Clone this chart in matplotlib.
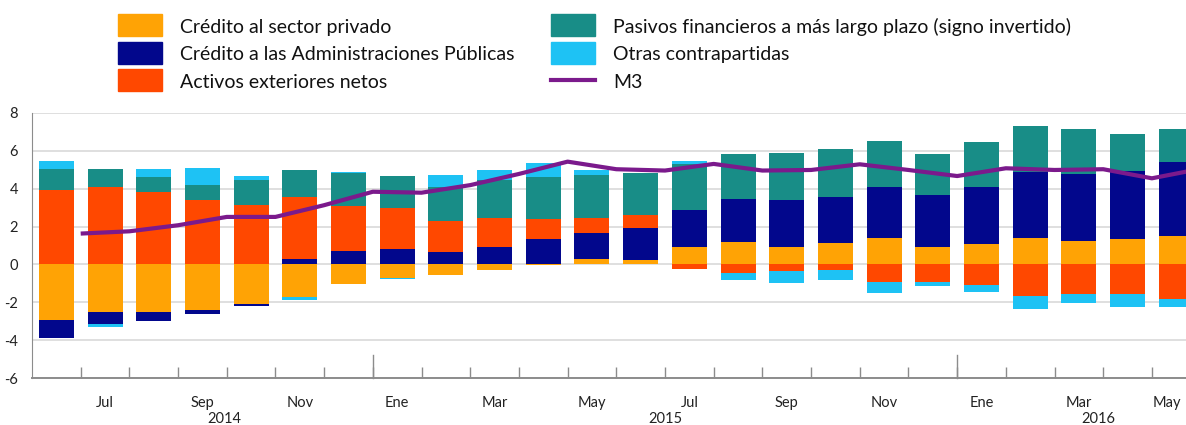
import numpy as np
import matplotlib
matplotlib.use("Agg")
import matplotlib.pyplot as plt
from matplotlib.patches import Rectangle
from matplotlib.lines import Line2D
import matplotlib.transforms as mtransforms

plt.rcParams['font.family'] = ['Lato', 'DejaVu Sans']
plt.rcParams['axes.unicode_minus'] = False

# Jun 2014 - May 2016, contribuciones al crecimiento de M3 (pp)
months = ["Jun", "Jul", "Ago", "Sep", "Oct", "Nov", "Dic",
          "Ene", "Feb", "Mar", "Abr", "May", "Jun", "Jul", "Ago", "Sep", "Oct", "Nov", "Dic",
          "Ene", "Feb", "Mar", "Abr", "May"]
private = [-2.92, -2.53, -2.50, -2.41, -2.09, -1.73, -1.06,
           -0.70, -0.56, -0.30, -0.03, 0.30, 0.23, 0.94, 1.20, 0.94, 1.11, 1.41, 0.94,
           1.06, 1.41, 1.24, 1.33, 1.52]
public = [-0.99, -0.62, -0.47, -0.21, -0.12, 0.27, 0.69,
          0.80, 0.64, 0.94, 1.34, 1.36, 1.71, 1.93, 2.24, 2.46, 2.43, 2.70, 2.73,
          3.01, 3.49, 3.54, 3.62, 3.91]
external = [3.93, 4.07, 3.84, 3.43, 3.13, 3.27, 2.39,
            2.16, 1.67, 1.49, 1.06, 0.79, 0.67, -0.24, -0.47, -0.33, -0.30, -0.91, -0.91,
            -1.09, -1.67, -1.58, -1.58, -1.84]
longterm = [1.11, 0.97, 0.80, 0.76, 1.33, 1.45, 1.73,
            1.71, 1.80, 2.03, 2.23, 2.25, 2.24, 2.43, 2.39, 2.50, 2.54, 2.42, 2.16,
            2.41, 2.43, 2.36, 1.92, 1.72]
other = [0.43, -0.14, 0.39, 0.93, 0.23, -0.15, 0.09,
         -0.06, 0.61, 0.53, 0.74, 0.30, 0.00, 0.18, -0.35, -0.67, -0.52, -0.58, -0.23,
         -0.35, -0.69, -0.48, -0.65, -0.39]
m3 = [1.63, 1.75, 2.07, 2.51, 2.51, 3.13, 3.84,
      3.79, 4.19, 4.78, 5.43, 5.03, 4.96, 5.31, 4.96, 4.99, 5.29, 4.99, 4.67,
      5.08, 4.99, 5.03, 4.55, 5.05]

month_labels = ["Jul", "Sep", "Nov", "Ene", "Mar", "May",
                "Jul", "Sep", "Nov", "Ene", "Mar", "May"]
years = ["2014", "2015", "2016"]

series = [
    ("Crédito al sector privado", private, "#FFA305"),
    ("Crédito a las Administraciones Públicas", public, "#02078C"),
    ("Activos exteriores netos", external, "#FF4800"),
    ("Pasivos financieros a más largo plazo (signo invertido)", longterm, "#188D87"),
    ("Otras contrapartidas", other, "#1EC2F4"),
]
m3_color = "#7B1A8C"

W, H = 1186, 425
fig = plt.figure(figsize=(W / 100, H / 100), dpi=100)
ax = fig.add_axes([32 / W, 1 - 378 / H, 1 - 32 / W, (378 - 113) / H])

x = np.arange(len(months))
pos_bottom = np.zeros(len(x))
neg_bottom = np.zeros(len(x))
for name, vals, col in series:
    v = np.array(vals)
    bottom = np.where(v >= 0, pos_bottom, neg_bottom)
    ax.bar(x, v, width=0.72, bottom=bottom, color=col, zorder=2)
    pos_bottom = pos_bottom + np.clip(v, 0, None)
    neg_bottom = neg_bottom + np.clip(v, None, 0)

# M3 se dibuja desplazado medio mes
ax.plot(x + 0.5, m3, color=m3_color, lw=3, zorder=3, solid_capstyle='butt')

ax.set_xlim(-0.5, 23.2)
ax.set_ylim(-6, 8)
ax.set_yticks(np.arange(-6, 9, 2))
ax.yaxis.grid(True, color="#d9d9d9", lw=1.2, zorder=0)
ax.set_axisbelow(True)
ax.tick_params(axis='y', length=0, pad=10, labelsize=10.5, labelcolor="#222222")

for s in ["top", "right"]:
    ax.spines[s].set_visible(False)
ax.spines["left"].set_color("#8c8c8c")
ax.spines["bottom"].set_color("#8c8c8c")
ax.spines["bottom"].set_linewidth(1.4)

ax.set_xticks(x[1::2])
ax.set_xticklabels(month_labels)
ax.tick_params(axis='x', which='major', length=0, pad=13, labelsize=10.5, labelcolor="#222222")
ax.set_xticks(x[:-1] + 0.5, minor=True)
ax.tick_params(axis='x', which='minor', direction='in', length=8, width=1, color="#8c8c8c")
# ultima etiqueta un poco a la izquierda para que no se corte
last = ax.get_xticklabels()[-1]
last.set_transform(last.get_transform() + mtransforms.ScaledTranslation(-9 / 100, 0, fig.dpi_scale_trans))

# separadores de año
for b in [6.5, 18.5]:
    ax.plot([b, b], [-6, -4.8], color="#8c8c8c", lw=1, clip_on=False, zorder=1)

trans = mtransforms.blended_transform_factory(ax.transData, fig.transFigure)
for yr, xp in zip(years, [3.45, 12.5, 21.4]):
    ax.text(xp, 1 - 419 / H, yr, transform=trans, ha='center', va='center',
            fontsize=10.5, color="#222222")

# leyenda
rows = [25, 52.5, 80]
items = [(n, c, 'patch') for n, _, c in series] + [("M3", m3_color, 'line')]
cols = [(118, 180), (551, 613)]
for i, (name, col, kind) in enumerate(items):
    px, tx = cols[i // 3]
    yc = rows[i % 3]
    if kind == 'patch':
        fig.add_artist(Rectangle((px / W, 1 - (yc + 11) / H), 44 / W, 22 / H,
                                 transform=fig.transFigure, color=col))
    else:
        fig.add_artist(Line2D([px / W, (px + 44) / W], [1 - yc / H, 1 - yc / H],
                              transform=fig.transFigure, color=col, lw=3))
    fig.text(tx / W, 1 - (yc + 2) / H, name, ha='left', va='center', fontsize=14,
             color="#111111")

fig.savefig("out.png", dpi=100)
